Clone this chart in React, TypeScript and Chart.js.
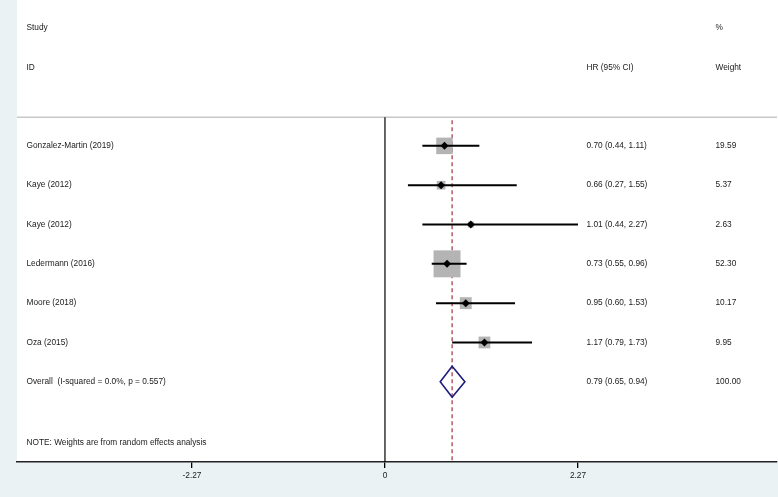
import { useEffect, useRef } from 'react';
import { Chart, registerables } from 'chart.js';

Chart.register(...registerables);

// ---- Data ----
const studies = ['Gonzalez-Martin (2019)', 'Kaye (2012)', 'Kaye (2012)', 'Ledermann (2016)', 'Moore (2018)', 'Oza (2015)'];
const hr = [0.7, 0.66, 1.01, 0.73, 0.95, 1.17];
const lower = [0.44, 0.27, 0.44, 0.55, 0.6, 0.79];
const upper = [1.11, 1.55, 2.27, 0.96, 1.53, 1.73];
const weights = [19.59, 5.37, 2.63, 52.3, 10.17, 9.95];

const overallLabel = 'Overall  (I-squared = 0.0%, p = 0.557)';
const overallHR = 0.79;
const overallLower = 0.65;
const overallUpper = 0.94;
const overallWeight = 100.0;

const xTicks = [-2.27, 0, 2.27];
const xTickLabels = ['-2.27', '0', '2.27'];
const noteText = 'NOTE: Weights are from random effects analysis';

// ---- Layout (row positions in row units) ----
const studyRows = studies.map((_, i) => i + 3);
const overallRow = 9;
const separatorRow = 2.27;
const noteRow = 10.56;

const FONT = '8.3px "Liberation Sans", Arial, Helvetica, sans-serif';
const TEXT = '#1a1a1a';
const BG = '#EAF2F3';

const fmt = (v: number) => v.toFixed(2);

const forestPlugin = {
  id: 'forestPlugin',
  beforeDraw(chart: any) {
    const { ctx, chartArea, width, height } = chart;
    ctx.save();
    ctx.fillStyle = BG;
    ctx.fillRect(0, 0, width, height);
    ctx.fillStyle = '#ffffff';
    ctx.fillRect(chartArea.left, 0, width - chartArea.left, chartArea.bottom);
    ctx.restore();
  },
  beforeDatasetsDraw(chart: any) {
    const { ctx, chartArea, scales } = chart;
    const x = scales.x;
    const y = scales.y;
    const sepY = y.getPixelForValue(separatorRow);
    ctx.save();
    // separator
    ctx.strokeStyle = '#C8C8C8';
    ctx.lineWidth = 1.5;
    ctx.beginPath();
    ctx.moveTo(chartArea.left, sepY);
    ctx.lineTo(chartArea.right, sepY);
    ctx.stroke();
    // null line
    const x0 = x.getPixelForValue(0);
    ctx.strokeStyle = '#000000';
    ctx.lineWidth = 1.2;
    ctx.beginPath();
    ctx.moveTo(x0, sepY);
    ctx.lineTo(x0, chartArea.bottom);
    ctx.stroke();
    // overall dashed line
    const xo = x.getPixelForValue(overallHR);
    ctx.strokeStyle = '#B8666F';
    ctx.lineWidth = 1.6;
    ctx.setLineDash([4, 3]);
    ctx.beginPath();
    ctx.moveTo(xo, sepY + 3);
    ctx.lineTo(xo, chartArea.bottom);
    ctx.stroke();
    ctx.restore();
  },
  afterDatasetsDraw(chart: any) {
    const { ctx, chartArea, scales } = chart;
    const x = scales.x;
    const y = scales.y;
    ctx.save();
    // overall diamond
    const yc = y.getPixelForValue(overallRow);
    const h = 15.5;
    ctx.strokeStyle = '#1C1C7C';
    ctx.lineWidth = 1.6;
    ctx.beginPath();
    ctx.moveTo(x.getPixelForValue(overallLower), yc);
    ctx.lineTo(x.getPixelForValue(overallHR), yc - h);
    ctx.lineTo(x.getPixelForValue(overallUpper), yc);
    ctx.lineTo(x.getPixelForValue(overallHR), yc + h);
    ctx.closePath();
    ctx.stroke();

    // text
    ctx.font = FONT;
    ctx.fillStyle = TEXT;
    ctx.textBaseline = 'middle';
    ctx.textAlign = 'left';
    const colLabel = chartArea.left + 9.5;
    const colHR = 586.5;
    const colW = 715.5;
    ctx.fillText('Study', colLabel, y.getPixelForValue(0));
    ctx.fillText('%', colW, y.getPixelForValue(0));
    ctx.fillText('ID', colLabel, y.getPixelForValue(1));
    ctx.fillText('HR (95% CI)', colHR, y.getPixelForValue(1));
    ctx.fillText('Weight', colW, y.getPixelForValue(1));
    studies.forEach((s, i) => {
      const py = y.getPixelForValue(studyRows[i]);
      ctx.fillText(s, colLabel, py);
      ctx.fillText(`${fmt(hr[i])} (${fmt(lower[i])}, ${fmt(upper[i])})`, colHR, py);
      ctx.fillText(fmt(weights[i]), colW, py);
    });
    const po = y.getPixelForValue(overallRow);
    ctx.fillText(overallLabel, colLabel, po);
    ctx.fillText(`${fmt(overallHR)} (${fmt(overallLower)}, ${fmt(overallUpper)})`, colHR, po);
    ctx.fillText(fmt(overallWeight), colW, po);
    ctx.fillText(noteText, colLabel, y.getPixelForValue(noteRow));
    ctx.restore();
  },
};

export default function App() {
  const ref = useRef<HTMLCanvasElement>(null);

  useEffect(() => {
    if (!ref.current) return;
    const boxSide = (w: number) => 3.73 * Math.sqrt(w);

    const ciDatasets = studies.map((_, i) => ({
      type: 'line' as const,
      data: [
        { x: lower[i], y: studyRows[i] },
        { x: upper[i], y: studyRows[i] },
      ],
      borderColor: '#000000',
      borderWidth: 2,
      pointRadius: 0,
      fill: false,
      order: 2,
    }));

    const chart = new Chart(ref.current, {
      type: 'scatter',
      data: {
        datasets: [
          {
            type: 'scatter',
            data: studies.map((_, i) => ({ x: hr[i], y: studyRows[i] })),
            pointStyle: 'rect',
            pointRadius: weights.map((w) => boxSide(w) / Math.SQRT2),
            backgroundColor: '#B4B4B4',
            borderWidth: 0,
            order: 3,
          },
          ...ciDatasets,
          {
            type: 'scatter',
            data: studies.map((_, i) => ({ x: hr[i], y: studyRows[i] })),
            pointStyle: 'rectRot',
            pointRadius: 4,
            backgroundColor: '#000000',
            borderColor: '#000000',
            borderWidth: 0,
            order: 1,
          },
        ] as any,
      },
      options: {
        responsive: false,
        animation: false,
        events: [],
        layout: { autoPadding: false, padding: { left: 17, right: 1, top: 0, bottom: 0 } },
        plugins: { legend: { display: false }, tooltip: { enabled: false } },
        scales: {
          x: {
            type: 'linear',
            position: 'bottom',
            min: -4.328,
            max: 4.611,
            afterBuildTicks: (axis: any) => {
              axis.ticks = xTicks.map((v) => ({ value: v }));
            },
            afterFit: (axis: any) => {
              axis.height = 35;
            },
            ticks: {
              autoSkip: false,
              maxRotation: 0,
              padding: 3,
              color: TEXT,
              font: { family: '"Liberation Sans", Arial, sans-serif', size: 8.3 },
              callback: (_v: any, i: number) => xTickLabels[i],
            },
            grid: {
              drawOnChartArea: false,
              drawTicks: true,
              tickLength: 6,
              color: '#000000',
              lineWidth: 1.3,
            },
            border: { display: true, color: '#222222', width: 1.6 },
          },
          y: {
            type: 'linear',
            display: false,
            reverse: true,
            min: -0.71,
            max: 11.04,
          },
        },
      },
      plugins: [forestPlugin],
    } as any);
    return () => chart.destroy();
  }, []);

  return (
    <div style={{ position: 'absolute', left: 0, top: 0, width: 778, height: 497 }}>
      <canvas ref={ref} width={778} height={497} style={{ display: 'block' }} />
    </div>
  );
}
